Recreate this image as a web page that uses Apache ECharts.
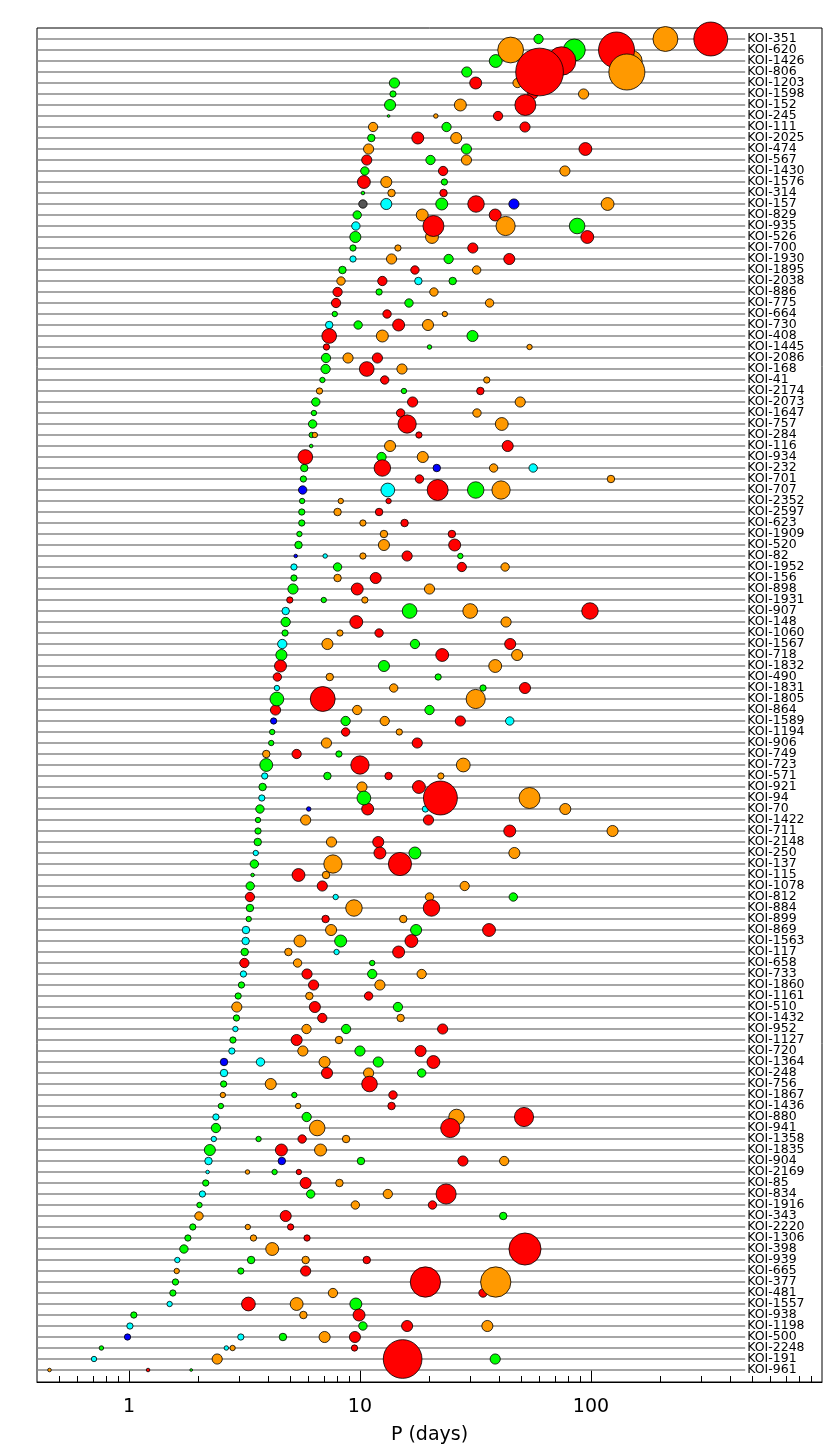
<!DOCTYPE html>
<html lang="en">
<head>
    <meta charset="UTF-8">
    <title>Kepler multi-planet systems</title>
    <script src="https://cdn.jsdelivr.net/npm/echarts@6/dist/echarts.min.js"></script>
    <style>
        html, body { margin: 0; padding: 0; background: #fff; }
        #main { width: 830px; height: 1453px; }
    </style>
</head>
<body>
<div id="main"></div>
<script>
    // systems, top to bottom (sorted by innermost period)
    const names = ['KOI-351','KOI-620','KOI-1426','KOI-806','KOI-1203','KOI-1598','KOI-152','KOI-245','KOI-111','KOI-2025',
        'KOI-474','KOI-567','KOI-1430','KOI-1576','KOI-314','KOI-157','KOI-829','KOI-935','KOI-526','KOI-700',
        'KOI-1930','KOI-1895','KOI-2038','KOI-886','KOI-775','KOI-664','KOI-730','KOI-408','KOI-1445','KOI-2086',
        'KOI-168','KOI-41','KOI-2174','KOI-2073','KOI-1647','KOI-757','KOI-284','KOI-116','KOI-934','KOI-232',
        'KOI-701','KOI-707','KOI-2352','KOI-2597','KOI-623','KOI-1909','KOI-520','KOI-82','KOI-1952','KOI-156',
        'KOI-898','KOI-1931','KOI-907','KOI-148','KOI-1060','KOI-1567','KOI-718','KOI-1832','KOI-490','KOI-1831',
        'KOI-1805','KOI-864','KOI-1589','KOI-1194','KOI-906','KOI-749','KOI-723','KOI-571','KOI-921','KOI-94',
        'KOI-70','KOI-1422','KOI-711','KOI-2148','KOI-250','KOI-137','KOI-115','KOI-1078','KOI-812','KOI-884',
        'KOI-899','KOI-869','KOI-1563','KOI-117','KOI-658','KOI-733','KOI-1860','KOI-1161','KOI-510','KOI-1432',
        'KOI-952','KOI-1127','KOI-720','KOI-1364','KOI-248','KOI-756','KOI-1867','KOI-1436','KOI-880','KOI-941',
        'KOI-1358','KOI-1835','KOI-904','KOI-2169','KOI-85','KOI-834','KOI-1916','KOI-343','KOI-2220','KOI-1306',
        'KOI-398','KOI-939','KOI-665','KOI-377','KOI-481','KOI-1557','KOI-938','KOI-1198','KOI-500','KOI-2248',
        'KOI-191','KOI-961'];

    // orbital periods (days) of each planet, per system
    const periods = [
        [59.3,210,330],[44.9,84.7,129],[38.7,74.6,150],[29.0,59.9,143],[14.1,31.7,48.1],
        [13.9,56.0,92.9],[13.5,27.2,52.0],[13.3,21.3,39.6],[11.4,23.7,51.8],[11.2,17.8,26.1],
        [10.9,28.9,94.6],[10.7,20.2,28.9],[10.5,22.9,77.1],[10.4,13.0,23.2],[10.3,13.7,23.0],
        [10.3,13.0,22.6,31.8,46.4,118],[9.73,18.6,38.5],[9.6,20.8,42.7,87.1],[9.55,20.5,96.4],[9.33,14.6,30.8],
        [9.33,13.7,24.2,44.3],[8.40,17.3,32.0],[8.28,12.5,17.9,25.2],[8.0,12.1,20.9],[7.88,16.3,36.4],
        [7.78,13.1,23.3],[7.36,9.82,14.7,19.7],[7.36,12.5,30.7],[7.16,20.0,54.2],[7.13,8.88,11.9],
        [7.1,10.7,15.2],[6.88,12.8,35.4],[6.68,15.5,33.2],[6.44,16.9,49.4],[6.32,15.0,32.1],
        [6.24,16.0,41.1],[6.18,6.38,18.0],[6.15,13.5,43.6],[5.80,12.4,18.7],[5.74,12.5,21.5,37.9,56.2],
        [5.69,18.1,122],[5.65,13.2,21.7,31.7,40.8],[5.62,8.26,13.3],[5.60,8.0,12.1],[5.60,10.3,15.6],
        [5.47,12.7,25.0],[5.42,12.7,25.7],[5.27,7.07,10.3,16.0,27.2],[5.18,8.0,27.6,42.5],[5.18,8.0,11.7],
        [5.13,9.73,20.0],[4.97,6.97,10.5],[4.77,16.4,30.0,99],[4.77,9.64,42.9],[4.74,8.19,12.1],
        [4.61,7.23,17.3,44.7],[4.57,22.7,47.9],[4.53,12.7,38.5],[4.39,7.40,21.8],[4.37,14.0,34.1,51.8],
        [4.37,6.90,31.7],[4.31,9.73,20.0],[4.23,8.67,12.8,27.2,44.5],[4.17,8.67,14.8],[4.13,7.16,17.7],
        [3.93,5.32,8.11],[3.93,10.0,28.0],[3.87,7.23,13.3,22.4],[3.79,10.2,18.0],[3.76,10.4,22.3,54.2],
        [3.69,6.0,10.8,19.2,77.4],[3.62,5.82,19.8],[3.62,44.5,124],[3.61,7.53,12.0],[3.54,12.2,17.3,46.6],
        [3.49,7.64,14.9],[3.43,5.42,7.13],[3.35,6.87,28.4],[3.34,7.85,20.0,46.1],[3.34,9.42,20.4],
        [3.30,7.10,15.4],[3.21,7.50,17.5,36.2],[3.20,5.50,8.25,16.7],[3.17,4.90,7.92,14.7],[3.16,5.37,11.3],
        [3.13,5.90,11.3,18.5],[3.07,6.30,12.2],[2.97,6.04,10.9],[2.93,6.38,14.6],[2.92,6.87,15.0],
        [2.89,5.87,8.71,22.8],[2.82,5.32,8.11],[2.79,5.66,10.0,18.3],[2.58,3.71,7.03,12.0,20.8],[2.58,7.20,10.9,18.5],
        [2.57,4.11,11.0],[2.55,5.20,13.9],[2.50,5.40,13.7],[2.38,5.88,26.2,51.3],[2.38,6.53,24.6],
        [2.33,3.64,5.62,8.71],[2.24,4.57,6.75],[2.21,4.59,10.1,27.9,42.1],[2.19,3.26,4.27,5.44],[2.15,5.82,8.15],
        [2.08,6.12,13.2,23.6],[2.02,9.55,20.6],[2.01,4.77,41.7],[1.89,3.27,5.01],[1.80,3.46,5.90],
        [1.73,4.17,51.8],[1.62,3.38,5.82,10.7],[1.61,3.05,5.82],[1.59,19.2,38.7],[1.55,7.64,34.1],
        [1.50,3.29,5.32,9.6],[1.05,5.69,9.91],[1.01,10.3,16.0,35.6],[0.986,3.05,4.64,7.03,9.51],[0.76,2.64,2.81,9.47],
        [0.706,2.41,15.3,38.5],[0.453,1.21,1.86]
    ];

    // planet radii (Earth radii), same layout as periods
    const radii = [
        [3.1,8.3,11.3],[8.6,7.3,12.0],[4.3,9.5,7.0],[3.4,15.9,12.0],[3.4,4.0,3.1],
        [2.1,3.4,3.4],[3.7,4.0,7.0],[0.9,1.5,3.1],[3.1,3.1,3.4],[2.5,4.0,3.7],
        [3.4,3.4,4.3],[3.4,3.1,3.4],[2.8,3.1,3.4],[4.3,3.7,2.1],[1.2,2.5,2.5],
        [2.8,3.7,4.0,5.5,3.4,4.3],[2.8,4.0,4.0],[2.8,7.0,6.4,5.2],[3.7,4.3,4.3],[2.1,2.1,3.4],
        [2.1,3.4,3.1,3.7],[2.5,2.8,2.8],[2.8,3.1,2.5,2.5],[3.1,2.1,2.8],[3.1,2.8,2.8],
        [1.8,2.8,1.8],[2.5,2.8,4.0,3.7],[4.9,4.0,3.7],[2.1,1.5,1.8],[3.1,3.4,3.4],
        [3.1,4.9,3.4],[1.8,2.8,2.1],[2.1,1.8,2.5],[2.8,3.4,3.4],[1.8,2.8,2.8],
        [2.8,6.1,4.3],[1.8,1.8,2.1],[1.2,3.7,3.7],[4.9,3.1,3.7],[2.5,5.5,2.5,2.8,2.8],
        [2.1,2.8,2.5],[2.8,4.6,7.0,5.5,6.1],[1.8,1.8,1.8],[2.1,2.5,2.5],[2.1,2.1,2.5],
        [1.8,2.5,2.5],[2.5,3.7,4.0],[1.2,1.5,2.1,3.4,1.8],[2.1,2.8,3.1,2.8],[2.1,2.5,3.7],
        [3.4,4.0,3.4],[2.1,1.8,2.1],[2.5,4.9,4.9,5.5],[3.1,4.3,3.4],[2.1,2.1,2.8],
        [3.1,3.7,3.1,3.7],[3.7,4.3,3.7],[4.0,3.7,4.3],[2.8,2.5,2.1],[1.8,2.8,2.1,3.7],
        [4.6,8.3,6.4],[3.4,3.1,3.1],[2.1,3.1,3.1,3.4,2.8],[1.8,2.8,2.1],[1.8,3.4,3.4],
        [2.5,3.1,2.1],[4.3,6.1,4.6],[2.1,2.5,2.5,2.1],[2.5,3.4,4.3],[2.1,4.6,11.3,7.0],
        [2.8,1.5,4.0,2.1,3.7],[1.8,3.4,3.4],[2.1,4.0,3.7],[2.5,3.4,3.7],[1.8,4.0,4.0,3.7],
        [2.8,6.1,7.7],[1.2,4.3,2.5],[2.8,3.4,3.1],[3.1,1.8,2.8,2.8],[2.5,5.5,5.5],
        [1.8,2.5,2.5],[2.5,3.7,3.7,4.3],[2.5,4.0,4.0,4.3],[2.5,2.5,1.8,4.0],[3.1,2.8,1.8],
        [2.1,3.4,3.1,3.1],[2.1,3.4,3.4],[2.1,2.5,2.8],[3.4,3.7,3.1],[2.1,3.1,2.5],
        [1.8,3.1,3.1,3.4],[2.1,3.7,2.5],[2.1,3.4,3.4,3.7],[2.5,2.8,3.7,3.4,4.3],[2.5,3.7,3.4,2.8],
        [2.1,3.7,5.2],[1.8,1.8,2.8],[1.8,1.8,2.5],[2.1,3.1,5.2,6.4],[3.1,5.2,6.4],
        [1.8,1.8,2.8,2.5],[3.7,4.0,4.0],[2.5,2.5,2.5,3.4,3.1],[1.2,1.5,1.8,1.8],[2.1,3.7,2.5],
        [2.1,2.8,3.1,6.7],[1.8,2.8,2.8],[2.8,3.7,2.5],[2.1,1.8,2.1],[2.1,2.1,2.1],
        [2.8,4.3,10.7],[1.8,2.5,2.5,2.5],[1.8,2.1,3.4],[2.1,10.1,10.1],[2.1,3.1,2.8],
        [1.8,4.6,4.3,4.0],[2.1,2.5,4.0],[2.1,2.8,3.7,3.7],[2.1,2.1,2.5,3.7,3.7],[1.5,1.5,1.8,2.1],
        [1.8,3.4,12.9,3.4],[1.2,1.2,0.9]
    ];

    // size rank inside each system: r=1st, o=2nd, g=3rd, c=4th, b=5th, k=6th
    const ranks = ['gor','ogr','gro','gro','gro','gro','gor','gor','ogr','gro',
        'ogr','rgo','gro','rog','gor','kcgrbo','gor','crog','gor','gor',
        'cogr','gro','orcg','rgo','rgo','gro','cgro','rog','rgo','gor',
        'gro','gro','ogr','gro','gro','gro','gor','gor','rgo','grboc',
        'gro','bcrgo','gor','gor','gor','gor','gor','bcorg','cgro','gor',
        'gro','rgo','cgor','gro','gor','cogr','gro','rgo','rog','cogr',
        'gro','rog','bgorc','gro','gor','org','gro','cgro','gor','cgro',
        'gbrco','gor','gro','gor','crgo','gor','gro','gro','rcog','gor',
        'gro','cogr','cogr','gocr','rog','crgo','gro','gor','org','gro',
        'cogr','gro','cogr','bcogr','crog','gor','ogr','gor','cgor','gor',
        'cgro','gro','cbgro','cogr','gro','cgor','gor','org','gor','gor',
        'gor','cgor','ogr','gro','gor','crog','gor','cgro','bcgor','gcor',
        'corg','org'];

    const rankColor = {r: '#ff0000', o: '#ff9900', g: '#00ff00', c: '#00ffff', b: '#0000ff', k: '#555555'};

    const xMinP = 0.4, xMaxP = 1000, lineEndP = 465;
    const majorTicks = [1, 10, 100];
    const minorTicks = [0.5,0.6,0.7,0.8,0.9,2,3,4,5,6,7,8,9,20,30,40,50,60,70,80,90,200,300,400,500,600,700,800,900];

    // build scatter points, small ones first so big planets sit on top
    let points = [];
    periods.forEach((row, i) => {
        row.forEach((p, j) => {
            points.push({
                value: [Math.log10(p), i, radii[i][j]],
                itemStyle: {color: rankColor[ranks[i][j]]}
            });
        });
    });
    points.sort((a, b) => a.value[2] - b.value[2]);

    const rowLines = names.map((n, i) => [Math.log10(xMinP), i]);

    let myChart = echarts.init(document.getElementById('main'), null, {renderer: 'canvas'});
    let option = {
        animation: false,
        backgroundColor: '#fff',
        textStyle: {fontFamily: 'DejaVu Sans'},
        grid: {
            left: 37, right: 8, top: 28, bottom: 71,
            show: true, borderColor: '#000', borderWidth: 1, backgroundColor: 'transparent'
        },
        xAxis: [
            {
                type: 'value',
                min: Math.log10(xMinP),
                max: Math.log10(xMaxP),
                position: 'bottom',
                axisLine: {onZero: false, lineStyle: {color: '#000', width: 1}},
                axisTick: {inside: true, length: 12, customValues: majorTicks.map(Math.log10),
                    lineStyle: {color: '#000', width: 1}},
                axisLabel: {
                    customValues: majorTicks.map(Math.log10),
                    formatter: v => String(Math.round(Math.pow(10, v))),
                    fontSize: 19, color: '#000', margin: 16, fontFamily: 'DejaVu Sans'
                },
                splitLine: {show: false},
                name: 'P (days)',
                nameLocation: 'middle',
                nameGap: 44,
                nameTextStyle: {fontSize: 19, color: '#000', fontFamily: 'DejaVu Sans'}
            },
            {
                type: 'value',
                min: Math.log10(xMinP),
                max: Math.log10(xMaxP),
                position: 'bottom',
                axisLine: {show: false, onZero: false},
                axisTick: {inside: true, length: 6, customValues: minorTicks.map(Math.log10),
                    lineStyle: {color: '#000', width: 1}},
                axisLabel: {show: false},
                splitLine: {show: false}
            }
        ],
        yAxis: {
            type: 'value',
            inverse: true,
            min: -1,
            max: 122.09,
            position: 'right',
            axisLine: {show: false, onZero: false},
            axisTick: {show: false},
            splitLine: {show: false},
            axisLabel: {show: false}
        },
        series: [
            {
                // one grey guide line per system, with its name at the right end
                type: 'custom',
                data: rowLines,
                z: 1,
                silent: true,
                renderItem: function (params, api) {
                    let a = api.coord([api.value(0), api.value(1)]);
                    let b = api.coord([Math.log10(lineEndP), api.value(1)]);
                    return {
                        type: 'group',
                        children: [
                            {
                                type: 'line',
                                shape: {x1: a[0], y1: a[1], x2: b[0], y2: b[1]},
                                style: {stroke: '#888888', lineWidth: 1.6}
                            },
                            {
                                type: 'text',
                                x: b[0] + 2,
                                y: b[1],
                                style: {
                                    text: names[params.dataIndex],
                                    fill: '#000',
                                    fontSize: 12.5,
                                    fontFamily: 'DejaVu Sans',
                                    align: 'left',
                                    verticalAlign: 'middle'
                                }
                            }
                        ]
                    };
                }
            },
            {
                type: 'scatter',
                data: points,
                z: 3,
                symbol: 'circle',
                symbolSize: v => v[2] * 3,
                itemStyle: {borderColor: '#000', borderWidth: 0.8, opacity: 1},
                emphasis: {disabled: true}
            }
        ]
    };
    myChart.setOption(option);
</script>
</body>
</html>
